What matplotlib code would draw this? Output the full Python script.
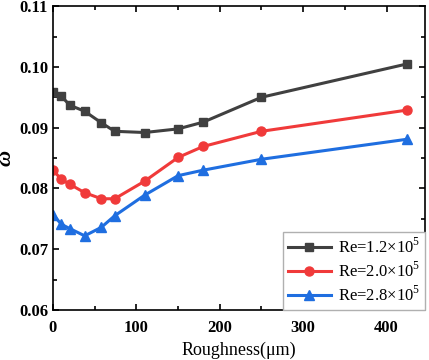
import numpy as np
import matplotlib.pyplot as plt
from matplotlib.ticker import MultipleLocator

# roughness (um) and omega for three Reynolds numbers
roughness = [0, 10, 20, 38, 58, 74, 110, 150, 180, 250, 425]
omega_12 = [0.0958, 0.0952, 0.0937, 0.0927, 0.0908, 0.0894, 0.0892, 0.0898, 0.0909, 0.0950, 0.1005]
omega_20 = [0.0830, 0.0815, 0.0807, 0.0793, 0.0783, 0.0783, 0.0812, 0.0851, 0.0869, 0.0894, 0.0929]
omega_28 = [0.0757, 0.0741, 0.0734, 0.0722, 0.0736, 0.0755, 0.0789, 0.0821, 0.0830, 0.0848, 0.0881]
labels = ['Re=1.2×10$^5$', 'Re=2.0×10$^5$', 'Re=2.8×10$^5$']

plt.rcParams['font.family'] = ['Liberation Serif', 'DejaVu Serif']
plt.rcParams['mathtext.fontset'] = 'custom'
plt.rcParams['mathtext.rm'] = 'Liberation Serif'

fig = plt.figure(figsize=(4.29, 3.6), dpi=100)
ax = fig.add_axes([0.1235, 0.139, 0.867, 0.844])

ax.plot(roughness, omega_12, '-s', color='#404040', lw=2.2, ms=6, label=labels[0])
ax.plot(roughness, omega_20, '-o', color='#f03a3a', lw=2.2, ms=6.5, label=labels[1])
ax.plot(roughness, omega_28, '-^', color='#1f6ee0', lw=2.2, ms=7, label=labels[2])

ax.set_xlim(0, 446)
ax.set_ylim(0.06, 0.11)
ax.xaxis.set_major_locator(MultipleLocator(100))
ax.xaxis.set_minor_locator(MultipleLocator(50))
ax.yaxis.set_major_locator(MultipleLocator(0.01))
ax.yaxis.set_minor_locator(MultipleLocator(0.005))
ax.tick_params(which='both', direction='in', top=True, right=True, width=1.2)
ax.tick_params(which='major', length=4.5, labelsize=12)
ax.tick_params(which='minor', length=3)
ax.tick_params(axis='x', which='major', pad=7)
for lab in ax.get_xticklabels() + ax.get_yticklabels():
    lab.set_fontweight('bold')
for s in ax.spines.values():
    s.set_linewidth(1.2)

ax.set_xlabel('Roughness(μm)', fontsize=13, labelpad=4)
ax.set_ylabel('ω', fontsize=16, fontweight='bold', fontstyle='italic')
ax.yaxis.set_label_coords(-0.1, 0.5)

leg = ax.legend(loc='lower right', fontsize=12, fancybox=False, framealpha=1,
                edgecolor='#b0b0b0', borderaxespad=0, handlelength=2.6,
                borderpad=0.3, labelspacing=0.3, handletextpad=0.4)
leg.get_frame().set_linewidth(1.0)

fig.savefig('out.png', dpi=100)
